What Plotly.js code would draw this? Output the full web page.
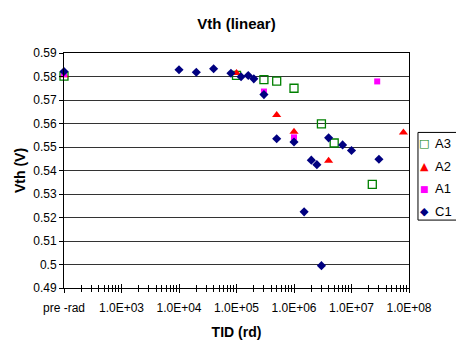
<!DOCTYPE html>
<html>
<head>
<meta charset="utf-8">
<script src="https://cdn.plot.ly/plotly-3.0.1.min.js"></script>
<style>html,body{margin:0;padding:0;background:#fff;}#chart{width:456px;height:340px;}</style>
</head>
<body>
<div id="chart"></div>
<script>
// Data (TID in rd; pre-rad plotted at 1e2)
const a3X = [1e2, 1e5, 3e5, 5e5, 1e6, 3e6, 5e6, 2.3e7];
const a3Y = [0.5802, 0.5805, 0.5787, 0.5780, 0.5750, 0.5598, 0.5517, 0.5341];
const a2X = [1e2, 1e5, 5e5, 1e6, 4e6, 8e7];
const a2Y = [0.5805, 0.5815, 0.5636, 0.5565, 0.5441, 0.5562];
const a1X = [1e2, 3e5, 1e6, 2.8e7];
const a1Y = [0.5810, 0.5736, 0.5541, 0.5779];
const c1X = [1e2, 1e4, 2e4, 4e4, 8e4, 1.2e5, 1.6e5, 2e5, 3e5, 5e5, 1e6, 1.5e6, 2e6, 2.5e6, 3e6, 4e6, 7e6, 1e7, 3e7];
const c1Y = [0.5821, 0.5829, 0.5818, 0.5833, 0.5814, 0.5799, 0.5804, 0.5790, 0.5723, 0.5535, 0.5521, 0.5224, 0.5444, 0.5425, 0.4995, 0.5539, 0.5509, 0.5485, 0.5448];

const seriesNames = ['A3', 'A2', 'A1', 'C1'];
const legendGlyphs = ['\u25A1', '\u25B2', '\u25A0', '\u25C6'];

const xTickVals = [1e2, 1e3, 1e4, 1e5, 1e6, 1e7, 1e8];
const xTickText = ['pre -rad', '1.0E+03', '1.0E+04', '1.0E+05', '1.0E+06', '1.0E+07', '1.0E+08'];
const yTickVals = [0.49, 0.5, 0.51, 0.52, 0.53, 0.54, 0.55, 0.56, 0.57, 0.58, 0.59];
const yTickText = ['0.49', '0.5', '0.51', '0.52', '0.53', '0.54', '0.55', '0.56', '0.57', '0.58', '0.59'];

const minorVals = [];
for (let d = 2; d < 8; d++) for (let k = 2; k <= 9; k++) minorVals.push(k * Math.pow(10, d));

const FONT = 'Arial, "Liberation Sans", sans-serif';
const colors = ['#008000', '#FF0000', '#FF00FF', '#000080'];

const traces = [
  {x: a3X, y: a3Y, name: seriesNames[0], mode: 'markers', type: 'scatter', cliponaxis: false,
   marker: {symbol: 'square-open', size: 8, color: colors[0], line: {width: 1.3, color: colors[0]}}},
  {x: a2X, y: a2Y, name: seriesNames[1], mode: 'markers', type: 'scatter', cliponaxis: false,
   marker: {symbol: 'triangle-up', size: 8, color: colors[1]}},
  {x: a1X, y: a1Y, name: seriesNames[2], mode: 'markers', type: 'scatter', cliponaxis: false,
   marker: {symbol: 'square', size: 6, color: colors[2]}},
  {x: c1X, y: c1Y, name: seriesNames[3], mode: 'markers', type: 'scatter', cliponaxis: false,
   marker: {symbol: 'diamond', size: 7, color: colors[3]}},
  {x: [1e2], y: [0.49], xaxis: 'x2', mode: 'markers', type: 'scatter', showlegend: false, hoverinfo: 'skip',
   marker: {opacity: 0}}
];

// Custom legend (box + entries) to the right of the plot area
const legTop = 0.6155, legStep = 0.0965;
const annotations = [];
seriesNames.forEach((n, i) => {
  const yy = legTop - i * legStep;
  annotations.push({xref: 'paper', yref: 'paper', x: 1.0435, y: yy, xanchor: 'center', yanchor: 'middle',
    showarrow: false, text: legendGlyphs[i], font: {family: '"DejaVu Sans", sans-serif', size: i === 2 ? 9 : 11, color: colors[i]}});
  annotations.push({xref: 'paper', yref: 'paper', x: 1.07, y: yy, xanchor: 'left', yanchor: 'middle',
    showarrow: false, text: n, font: {family: FONT, size: 13, color: '#000'}});
});

const layout = {
  width: 456, height: 340,
  margin: {l: 64, r: 47, t: 53, b: 52, pad: 0},
  paper_bgcolor: '#fff', plot_bgcolor: '#fff',
  font: {family: FONT, size: 12, color: '#000'},
  title: {text: '<b>Vth (linear)</b>', x: 0.5, xref: 'paper', y: 0.945, yref: 'container',
          font: {family: FONT, size: 15, color: '#000'}},
  showlegend: false,
  annotations: annotations,
  shapes: [{type: 'rect', xref: 'paper', yref: 'paper', x0: 1.026, x1: 1.16, y0: 0.289, y1: 0.662,
            line: {color: '#000', width: 1}, fillcolor: 'rgba(0,0,0,0)', layer: 'above'}],
  xaxis: {type: 'log', range: [2, 8], tickmode: 'array', tickvals: xTickVals, ticktext: xTickText,
          ticks: 'outside', ticklen: 4, tickcolor: '#000', tickwidth: 1, ticklabelstandoff: 5,
          minor: {tickmode: 'array', tickvals: minorVals, ticks: 'outside', ticklen: 3, tickcolor: '#000', showgrid: false},
          showgrid: false, showline: true, linecolor: '#000', linewidth: 1, mirror: true, zeroline: false,
          tickfont: {family: FONT, size: 12, color: '#000'},
          title: {text: '<b>TID (rd)</b>', font: {family: FONT, size: 14, color: '#000'}, standoff: 13}},
  xaxis2: {type: 'log', range: [2, 8], overlaying: 'x', anchor: 'y', side: 'bottom', tickmode: 'array', tickvals: xTickVals,
           ticks: 'inside', ticklen: 4, tickcolor: '#000', showticklabels: false, showgrid: false, showline: false, zeroline: false,
           minor: {tickmode: 'array', tickvals: minorVals, ticks: 'inside', ticklen: 3, tickcolor: '#000', showgrid: false}},
  yaxis: {range: [0.49, 0.59], tickmode: 'array', tickvals: yTickVals, ticktext: yTickText,
          ticks: 'outside', ticklen: 4, tickcolor: '#000', showgrid: true, gridcolor: '#333', gridwidth: 1,
          showline: true, linecolor: '#000', linewidth: 1, mirror: true, zeroline: false,
          tickfont: {family: FONT, size: 12, color: '#000'},
          title: {text: '<b>Vth (V)</b>', font: {family: FONT, size: 14, color: '#000'}, standoff: 4}}
};

Plotly.newPlot('chart', traces, layout, {displayModeBar: false, staticPlot: true});
</script>
</body>
</html>
